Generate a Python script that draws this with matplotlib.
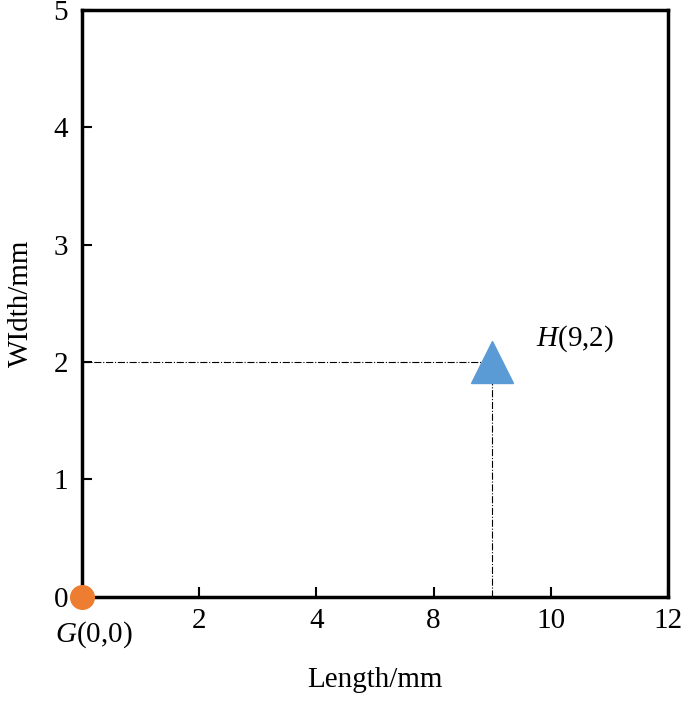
import matplotlib
matplotlib.use("Agg")
import matplotlib.pyplot as plt

xtick_pos = [2.4, 4.8, 7.2, 9.6, 12]
xtick_labels = ["2", "4", "8", "10", "12"]
ytick_pos = [0, 1, 2, 3, 4, 5]
G = (0, 0)
H = (8.4, 2)
H_label = "(9,2)"

plt.rcParams["font.family"] = "Liberation Serif"
plt.rcParams["mathtext.fontset"] = "custom"
plt.rcParams["mathtext.it"] = "Liberation Serif:italic"
plt.rcParams["mathtext.rm"] = "Liberation Serif"
fig = plt.figure(figsize=(6.85, 7.03), dpi=100)
ax = fig.add_axes([0.12, 0.151, 0.855, 0.835])
ax.set_xlim(0, 12)
ax.set_ylim(0, 5)
for s in ax.spines.values():
    s.set_linewidth(2.5)
ax.set_xticks(xtick_pos)
ax.set_xticklabels(xtick_labels)
ax.set_yticks(ytick_pos)
ax.tick_params(direction="in", labelsize=21, width=1.5, length=7, pad=8)
ax.tick_params(axis="y", pad=10)
ax.set_xlabel("Length/mm", fontsize=21, labelpad=24)
ax.set_ylabel("WIdth/mm", fontsize=21, labelpad=14)

ax.plot([0, H[0]], [H[1], H[1]], color="black", lw=0.8, ls="-.")
ax.plot([H[0], H[0]], [0, H[1]], color="black", lw=0.8, ls="-.")
ax.plot(*H, marker="^", ms=30, color="#5b9bd5", clip_on=False, zorder=5)
ax.plot(*G, marker="o", ms=17, color="#ed7d31", clip_on=False, zorder=5)
ax.text(H[0] + 0.9, H[1] + 0.2, r"$H$" + H_label, fontsize=21, ha="left", va="center")
ax.text(G[0] - 0.55, G[1] - 0.32, r"$G$(0,0)", fontsize=21, ha="left", va="center")
fig.savefig("out.png", dpi=100)
